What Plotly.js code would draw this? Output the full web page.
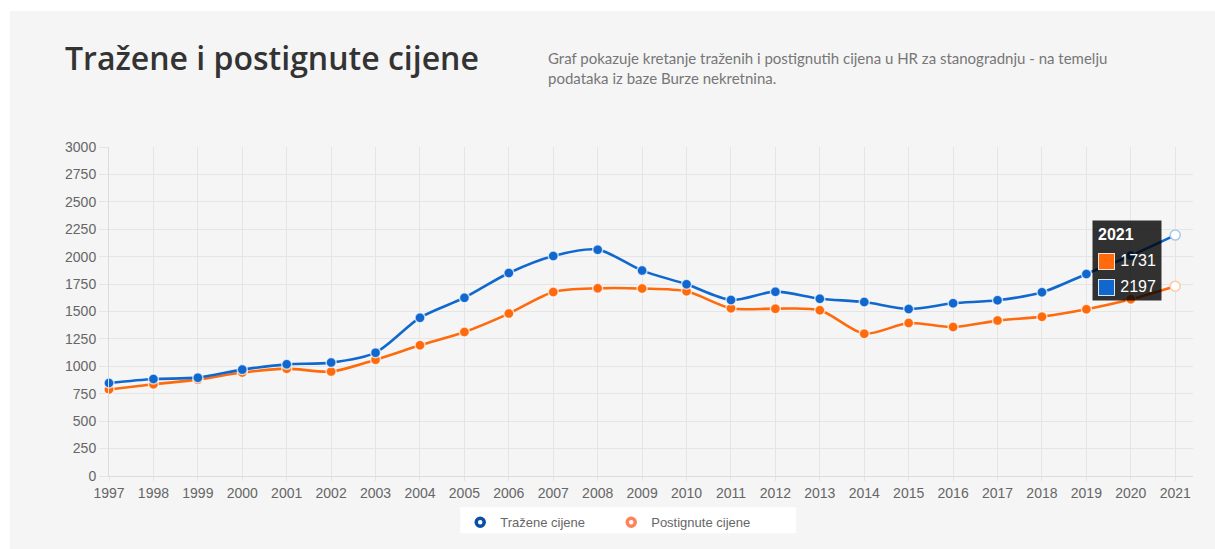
<!DOCTYPE html>
<html><head><meta charset="utf-8">
<script src="https://cdn.plot.ly/plotly-3.0.1.min.js"></script>
<style>
html,body{margin:0;padding:0;background:#fff;width:1215px;height:549px;overflow:hidden}
#chart{position:absolute;left:10px;top:11px;width:1205px;height:538px}
</style></head>
<body><div id="chart"></div>
<script>
const years = [1997,1998,1999,2000,2001,2002,2003,2004,2005,2006,2007,2008,2009,2010,2011,2012,2013,2014,2015,2016,2017,2018,2019,2020,2021];
const trazeneCijene = [848,884,897,970,1018,1034,1125,1444,1626,1851,2006,2064,1873,1748,1605,1681,1617,1586,1523,1575,1602,1675,1842,2010,2197];
const postignuteCijene = [788,836,879,943,979,952,1061,1192,1313,1481,1678,1711,1709,1684,1529,1526,1511,1298,1395,1358,1417,1453,1520,1611,1731];
const seriesNames = ['Tražene cijene','Postignute cijene'];
const yTickValues = [0,250,500,750,1000,1250,1500,1750,2000,2250,2500,2750,3000];
const chartTitle = 'Tražene i postignute cijene';
const chartSubtitle = 'Graf pokazuje kretanje traženih i postignutih cijena u HR za stanogradnju - na temelju<br>podataka iz baze Burze nekretnina.';

const BLUE = '#1068cf', ORANGE = '#ff6a0d';
const last = years.length - 1;

function lineTrace(ys, name, color, hoverBorder) {
  return {
    x: years, y: ys, name: name, type: 'scatter', mode: 'lines+markers',
    showlegend: false, cliponaxis: false,
    line: {color: color, width: 2.6, shape: 'spline', smoothing: 0.8},
    marker: {
      size: 10,
      color: ys.map((v, i) => i === last ? '#ffffff' : color),
      line: {width: 1.5, color: ys.map((v, i) => i === last ? hoverBorder : 'rgba(255,255,255,0.7)')}
    },
    hoverinfo: 'skip'
  };
}
function legendTrace(name, color) {
  return {
    x: [null], y: [null], name: name, type: 'scatter', mode: 'markers',
    marker: {size: 8, color: '#ffffff', line: {width: 3.5, color: color}},
    hoverinfo: 'skip'
  };
}

const data = [
  lineTrace(postignuteCijene, seriesNames[1], ORANGE, '#ffc9a8'),
  lineTrace(trazeneCijene, seriesNames[0], BLUE, '#a9c9ee'),
  legendTrace(seriesNames[0], '#0a4fa3'),
  legendTrace(seriesNames[1], '#ff8259')
];

const pad = '\u00a0\u00a0\u00a0\u00a0\u00a0';
const tipText = '<b><span style="font-size:16px">' + years[last] + '</span></b><br>' +
  '<span style="font-size:16px">' + pad + postignuteCijene[last] + '</span><br>' +
  '<span style="font-size:16px">' + pad + trazeneCijene[last] + '</span>';
const tipX = years[last];
const tipY = (trazeneCijene[last] + postignuteCijene[last]) / 2;

function swatch(color, yshift) {
  return {
    text: ' ', x: tipX, y: tipY, xref: 'x', yref: 'y',
    xanchor: 'center', yanchor: 'middle', xshift: -69, yshift: yshift,
    width: 15, height: 15, borderpad: 0, borderwidth: 1,
    bordercolor: 'rgba(255,255,255,0.85)', bgcolor: color, showarrow: false
  };
}

const layout = {
  width: 1205, height: 538,
  paper_bgcolor: '#f5f5f5', plot_bgcolor: '#f5f5f5',
  margin: {l: 98.7, r: 22, t: 135.7, b: 73.3},
  font: {family: 'Liberation Sans, Arial, sans-serif', color: '#666'},
  title: {
    text: chartTitle, xref: 'container', yref: 'container',
    x: 55/1205, xanchor: 'left', y: 1 - 48/538, yanchor: 'middle',
    font: {family: 'Open Sans, sans-serif', size: 32, weight: 600, color: '#333'}
  },
  xaxis: {
    range: [1997, 2021.4], tickvals: years, ticktext: years.map(String),
    showgrid: true, gridcolor: '#e5e5e5', gridwidth: 1,
    zeroline: false, showline: true, linecolor: '#dcdcdc',
    ticks: 'outside', ticklen: 4, tickcolor: '#e5e5e5',
    tickfont: {size: 14, color: '#666'}, fixedrange: true
  },
  yaxis: {
    range: [0, 3000], tickvals: yTickValues, ticktext: yTickValues.map(String),
    showgrid: true, gridcolor: '#e5e5e5', gridwidth: 1,
    zeroline: false, showline: true, linecolor: '#dcdcdc',
    ticks: 'outside', ticklen: 9, tickcolor: '#e5e5e5',
    tickfont: {size: 14, color: '#666'}, fixedrange: true
  },
  legend: {
    orientation: 'h', x: 0.324, xanchor: 'left', y: -0.095, yanchor: 'top',
    bgcolor: 'rgba(0,0,0,0)', font: {size: 13, color: '#666'},
    entrywidth: 106, entrywidthmode: 'pixels'
  },
  shapes: [{
    type: 'rect', xref: 'paper', yref: 'paper', layer: 'below',
    x0: (460-10-98.7)/1084.3, x1: (796-10-98.7)/1084.3,
    y0: -(533-475.7)/329, y1: -(507-475.7)/329,
    fillcolor: '#ffffff', line: {width: 0}
  }],
  annotations: [
    {
      text: chartSubtitle, xref: 'paper', yref: 'paper',
      x: (546-10-98.7)/1084.3, xanchor: 'left', y: 1 + (135.7-36)/329, yanchor: 'top',
      align: 'left', showarrow: false,
      font: {family: 'Lato, Open Sans, sans-serif', size: 15, color: '#777'}
    },
    {
      text: tipText, x: tipX, y: tipY,
      xref: 'x', yref: 'y', xanchor: 'right', yanchor: 'middle', xshift: -13,
      showarrow: false, align: 'left', bgcolor: 'rgba(0,0,0,0.8)', borderpad: 5,
      font: {size: 20, color: '#ffffff', family: 'Liberation Sans, Arial, sans-serif'}
    },
    swatch(ORANGE, -1),
    swatch(BLUE, -27)
  ]
};

Plotly.newPlot('chart', data, layout, {displayModeBar: false, staticPlot: true});
</script>
</body></html>
